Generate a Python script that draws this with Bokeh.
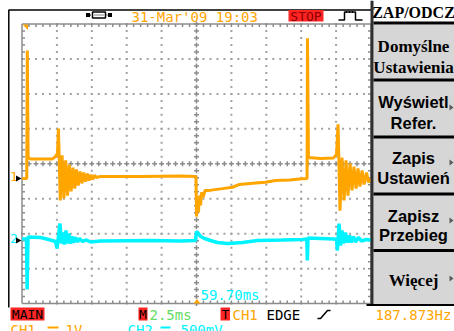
from bokeh.plotting import figure
from bokeh.models import Range1d
from bokeh.embed import file_html
from bokeh.resources import INLINE
from bokeh.core.properties import value

# ---------------- captured waveforms (time in ms from trigger, volts) ----------------
ch1_t = [-12.50, -12.16, -12.12, -12.06, -11.89, -10.32, -10.10, -9.96, -9.89, -9.76,
         -9.63, -9.50, -9.37, -9.24, -9.11, -8.98, -8.85, -8.72, -8.60, -8.47,
         -8.34, -8.21, -8.08, -7.95, -7.82, -7.69, -7.56, -7.44, -7.31, -7.16,
         -6.88, -4.01, -1.15, -0.04, 0.00, 0.07, 0.14, 0.21, 0.29, 0.36,
         0.47, 0.61, 0.93, 1.86, 2.58, 3.08, 4.23, 4.94, 5.66, 6.66,
         7.59, 7.92, 7.95, 8.02, 8.88, 9.81, 10.03, 10.14, 10.28, 10.42,
         10.57, 10.71, 10.85, 11.00, 11.14, 11.28, 11.43, 11.57, 11.71, 11.86,
         12.00, 12.18, 12.32, 12.50]
ch1_v = [0.00, 0.00, 3.66, 0.60, 0.56, 0.56, 0.63, 0.72, 1.43, -0.63,
         0.66, -0.57, 0.52, -0.49, 0.40, -0.37, 0.31, -0.29, 0.26, -0.20,
         0.20, -0.14, 0.17, -0.09, 0.14, -0.06, 0.11, -0.03, 0.09, 0.03,
         0.06, 0.06, 0.07, 0.06, -1.09, -0.63, -0.97, -0.49, -0.77, -0.40,
         -0.54, -0.34, -0.34, -0.29, -0.25, -0.17, -0.13, -0.11, -0.06, -0.04,
         -0.01, 0.00, 4.01, 0.60, 0.57, 0.59, 0.69, 1.55, -0.92, 0.60,
         -0.63, 0.52, -0.49, 0.43, -0.34, 0.34, -0.29, 0.29, -0.23, 0.23,
         -0.17, 0.17, -0.11, 0.00]

ch2_t = [-12.50, -12.18, -12.13, -12.07, -11.17, -10.60, -10.10, -9.99, -9.89, -9.78,
         -9.67, -9.56, -9.46, -9.35, -9.24, -9.13, -9.03, -8.92, -8.81, -8.67,
         -8.52, -8.38, -8.17, -7.88, -7.59, -6.88, -3.30, -1.15, -0.07, 0.00,
         0.14, 0.29, 0.57, 1.00, 1.50, 2.22, 3.30, 4.37, 6.16, 7.59,
         7.90, 7.94, 7.99, 8.88, 9.81, 10.03, 10.09, 10.21, 10.32, 10.42,
         10.53, 10.67, 10.82, 10.96, 11.10, 11.25, 11.39, 11.60, 11.82, 12.18,
         12.50]
ch2_v = [0.021, 0.021, -0.701, 0.050, 0.043, 0.014, -0.014, -0.114, 0.057, 0.243,
         -0.043, 0.114, -0.057, 0.143, -0.043, 0.100, -0.043, 0.057, -0.029, 0.043,
         -0.021, 0.029, -0.014, 0.007, -0.021, -0.007, 0.000, -0.007, 0.000, 0.129,
         0.100, 0.057, 0.029, 0.000, -0.029, -0.043, -0.029, 0.000, 0.007, 0.014,
         0.021, -0.286, 0.036, 0.029, 0.021, 0.014, -0.143, 0.243, -0.072, 0.143,
         -0.043, 0.114, -0.029, 0.072, -0.029, 0.057, -0.021, 0.043, -0.007, 0.014,
         0.007]

# ---------------- on-screen readouts ----------------
date_text = "31-Mar'09 19:03"
state_text = "STOP"
cursor_text = "59.70ms"
timebase_text = "2.5ms"
trig_source = "CH1"
trig_type = "EDGE"
freq_text = "187.873Hz"
ch1_scale = "1V"
ch2_scale = "500mV"
menu_title = "ZAP/ODCZ"
menu_items = [("Domyślne", "Ustawienia"), ("Wyświetl", "Refer."),
              ("Zapis", "Ustawień"), ("Zapisz", "Przebieg"), ("Więcej",)]
menu_serif = [True, False, False, False, True]

# ---------------- screen geometry ----------------
W, H = 454, 331
GX0, GY0 = 21.5, 23.5          # graticule top-left
DIVW, DIVH = 34.9, 34.95       # one division
NX, NY = 10, 8
MS_PER_DIV = 2.5
CH1_VDIV, CH2_VDIV = 1.0, 0.5
CH1_ZERO, CH2_ZERO = 178.0, 240.0
XC = GX0 + 5 * DIVW
YC = GY0 + 4 * DIVH
px_ms = DIVW / MS_PER_DIV
px_v1 = DIVH / CH1_VDIV
px_v2 = DIVH / CH2_VDIV

ORANGE = "#ffa500"
CYAN = "#00f4ff"
RED = "#ff2424"
GREEN = "#63dc63"
MONO = "DejaVu Sans Mono"

p = figure(width=W, height=H, title=None,
           x_range=Range1d(-XC / px_ms, (W - XC) / px_ms),
           y_range=Range1d(-(H - CH1_ZERO) / px_v1, CH1_ZERO / px_v1),
           x_axis_location=None, y_axis_location=None,
           output_backend="svg", toolbar_location=None, min_border=0,
           outline_line_color=None, background_fill_color="white",
           border_fill_color="white")
p.grid.visible = False
p.extra_y_ranges = {"ch2": Range1d(-(H - CH2_ZERO) / px_v2, CH2_ZERO / px_v2),
                    "py": Range1d(H, 0)}
p.extra_x_ranges = {"px": Range1d(0, W)}
PX = dict(x_range_name="px", y_range_name="py")


def txt(x, y, s, color="black", size=14, font=MONO, align="left", style="normal"):
    # y is the top of the capital letters
    p.text(x=[x], y=[y], text=[s], text_color=color, text_font=value(font),
           text_font_size=f"{size}px", text_font_style=style, text_align=align,
           text_baseline="top", **PX)


def box(l, r, t, b, color):
    p.quad(left=[l], right=[r], top=[t], bottom=[b], fill_color=color, line_color=None, **PX)


# ---------------- graticule ----------------
dx, dy = [], []
for k in range(1, NX):
    if k == 5:
        continue
    for m in range(NY * 5 + 1):
        dx.append(GX0 + k * DIVW)
        dy.append(GY0 + m * DIVH / 5)
for j in range(1, NY):
    if j == 4:
        continue
    for m in range(NX * 5 + 1):
        dx.append(GX0 + m * DIVW / 5)
        dy.append(GY0 + j * DIVH)
p.scatter(dx, dy, marker="square", size=2, fill_color="#a2a2a2", line_color=None, **PX)

cx = [XC] * (NY * 5 + 1) + [GX0 + m * DIVW / 5 for m in range(NX * 5 + 1)]
cy = [GY0 + m * DIVH / 5 for m in range(NY * 5 + 1)] + [YC] * (NX * 5 + 1)
p.scatter(cx, cy, marker="cross", size=5, line_color="#8c8c8c", line_width=1.5, **PX)

GX1, GY1 = GX0 + NX * DIVW, GY0 + NY * DIVH
p.multi_line(xs=[[GX0, GX0], [GX0, GX1], [GX0, GX1], [GX1, GX1]],
             ys=[[GY0, GY1], [GY1, GY1], [GY0, GY0], [GY0, GY1]],
             line_color="#8c8c8c", line_width=1.5, **PX)
tx0, ty0, tx1, ty1 = [], [], [], []
for m in range(1, NY * 5):
    y = GY0 + m * DIVH / 5
    tx0 += [GX0, GX1]; tx1 += [GX0 + 3, GX1 - 3]; ty0 += [y, y]; ty1 += [y, y]
for m in range(1, NX * 5):
    x = GX0 + m * DIVW / 5
    tx0 += [x, x]; tx1 += [x, x]; ty0 += [GY0, GY1]; ty1 += [GY0 + 3, GY1 - 3]
p.segment(tx0, ty0, tx1, ty1, line_color="#8c8c8c", line_width=1.5, **PX)

# ---------------- traces ----------------
p.line(ch2_t, ch2_v, y_range_name="ch2", line_color=CYAN, line_width=3.5)
p.line(ch1_t, ch1_v, line_color=ORANGE, line_width=3)

# ---------------- frame of the display ----------------
p.segment([8, 8.3], [9.5, 9.5], [371, 8.3], [9.5, 307], line_color="black", line_width=1.5, **PX)

# transfer icon
box(85.5, 89.5, 16.5, 12.5, "black")
box(107.5, 111.5, 16.5, 12.5, "black")
p.quad(left=[92], right=[105], top=[11.5], bottom=[17.5], fill_color="white",
       line_color="black", line_width=1.5, **PX)
p.segment([89.5, 105, 94], [14.5, 14.5, 14.5], [92, 107.5, 103], [14.5, 14.5, 14.5],
          line_color="black", line_width=1, line_dash="1 1", **PX)

txt(131, 8, date_text, ORANGE)
box(288, 323, 9.5, 21, RED)
txt(305.5, 8.5, state_text, "#8a0000", size=13, align="center")
p.line([338, 344, 344, 355, 355, 362], [19.5, 19.5, 11.5, 11.5, 19.5, 19.5],
       line_color="black", line_width=1.5, **PX)
p.segment([346, 349, 352], [10.5, 10.5, 10.5], [346, 349, 352], [12.5, 12.5, 12.5],
          line_color="black", line_width=1, **PX)

# markers on the graticule
p.patch([22, 27.5, 27.5], [24, 24, 29.5], fill_color=ORANGE, line_color=None, **PX)
p.patch([193, 200, 196.5], [303, 303, 298.5], fill_color=ORANGE, line_color=None, **PX)
txt(9.5, 171.5, "1", ORANGE, size=13)
p.patch([15.5, 21, 15.5], [175, 178, 181], fill_color="black", line_color=None, **PX)
txt(9.5, 233.5, "2", CYAN, size=13)
p.patch([15.5, 21, 15.5], [237, 240, 243], fill_color="black", line_color=None, **PX)
txt(200, 286.5, cursor_text, CYAN)

# ---------------- bottom status lines ----------------
box(10, 44, 307, 320, RED)
txt(27, 306.5, "MAIN", "black", size=13, align="center")
box(138, 147, 307, 320, RED)
txt(142.5, 306.5, "M", "black", size=13, align="center")
txt(149, 306, timebase_text, GREEN)
box(220, 229.5, 307, 320, RED)
txt(224.8, 306.5, "T", "black", size=13, align="center")
txt(232, 306, trig_source, ORANGE)
txt(266, 306, trig_type, "black")
p.line([317, 320, 327, 330], [318, 318, 310, 310], line_color="black", line_width=1.5, **PX)
txt(375, 306, freq_text, ORANGE)

txt(10, 321.5, "CH1", ORANGE)
p.segment([47], [327], [58], [327], line_color=ORANGE, line_width=2, **PX)
txt(65, 321.5, ch1_scale, ORANGE)
txt(127, 321.5, "CH2", CYAN)
p.segment([160], [327], [170], [327], line_color=CYAN, line_width=2, **PX)
txt(180, 321.5, ch2_scale, CYAN)

# ---------------- side menu ----------------
box(373, 454, 24, 304, "#d6d6d6")
p.segment([371.5], [0], [371.5], [305], line_color="#303030", line_width=3, **PX)
sep_y = [22.5, 79.5, 136.5, 193.5, 250.0]
p.segment([373] * 5, sep_y, [454] * 5, sep_y, line_color="black", line_width=3, **PX)
p.segment([366], [304.5], [454], [304.5], line_color="black", line_width=2, **PX)
txt(413, 3, menu_title, "black", size=16, font="Liberation Serif", align="center", style="bold")

line_y = [(36, 57), (92, 113), (148, 168), (206, 225), (270,)]
for item, ys, serif in zip(menu_items, line_y, menu_serif):
    for s, y in zip(item, ys):
        txt(413, y, s, "black", size=17 if serif else 16.5,
            font="Liberation Serif" if serif else "Liberation Sans",
            align="center", style="bold")
for ay in [107, 162, 220, 278]:
    p.patch([449, 453, 449], [ay - 3, ay, ay + 3], fill_color="#5a5a5a", line_color=None, **PX)

open("out.html", "w").write(file_html(p, INLINE))
